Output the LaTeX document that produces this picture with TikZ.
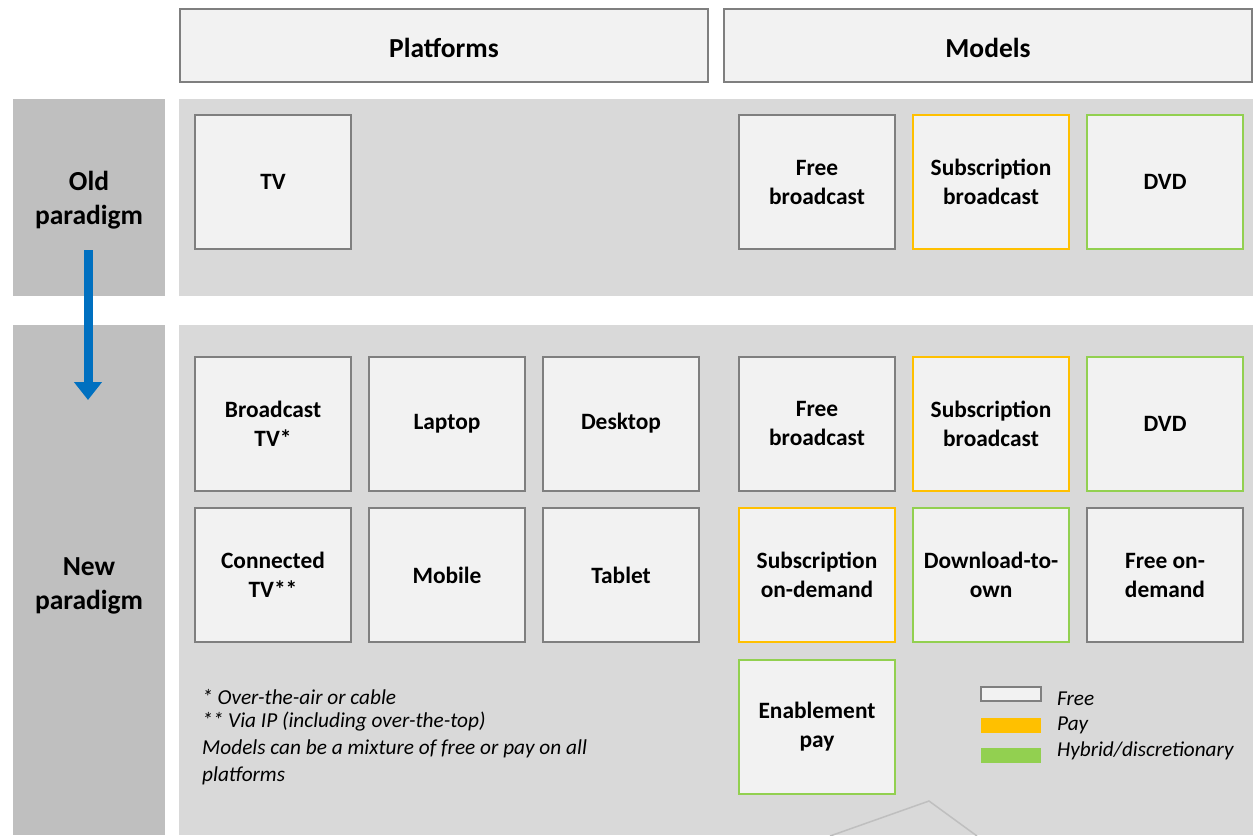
\documentclass[tikz,border=0pt]{standalone}
\usepackage{fontspec}
\setmainfont{Carlito}
\usetikzlibrary{arrows.meta}
\definecolor{boxfill}{HTML}{F2F2F2}
\definecolor{panel}{HTML}{D9D9D9}
\definecolor{rowlab}{HTML}{BFBFBF}
\definecolor{freeC}{HTML}{7F7F7F}
\definecolor{payC}{HTML}{FFC000}
\definecolor{hybC}{HTML}{92D050}
\definecolor{arrowC}{HTML}{0070C0}
\tikzset{
  cell/.style={rectangle, fill=boxfill, line width=2pt, minimum width=156pt, minimum height=134pt,
    align=center, inner sep=2pt, font=\fontsize{23.4}{29}\selectfont\bfseries},
  freebox/.style={cell, draw=freeC},
  paybox/.style={cell, draw=payC},
  hybbox/.style={cell, draw=hybC},
  header/.style={rectangle, fill=boxfill, draw=freeC, line width=1.5pt, minimum width=528pt, minimum height=73pt},
  headtxt/.style={font=\fontsize{27.5}{33}\selectfont\bfseries},
  rowlabel/.style={rectangle, fill=rowlab, minimum width=152pt, inner sep=0pt},
  rowtxt/.style={align=center, font=\fontsize{27.5}{34}\selectfont\bfseries},
  panelbg/.style={rectangle, fill=panel, minimum width=1074pt, inner sep=0pt},
  legsw/.style={rectangle, minimum width=60pt, minimum height=15pt, inner sep=0pt},
  legtxt/.style={anchor=west, inner sep=0pt, font=\fontsize{21.2}{25}\selectfont\itshape}
}
\begin{document}
\begin{tikzpicture}[x=1pt,y=-1pt]
\useasboundingbox (0,0) rectangle (1257,835);
\fill[white] (0,0) rectangle (1257,835);
% headers
\node[header] (hplat) at (444,45.5) {};
\node[headtxt] (tplat) at (444,47.5) {Platforms};
\node[header] (hmod) at (988,45.5) {};
\node[headtxt] (tmod) at (988,47.5) {Models};
% row labels
\node[rowlabel, minimum height=197pt] (lold) at (89,197.5) {};
\node[rowtxt] (told) at (89,200.5) {Old\\paradigm};
\node[rowlabel, minimum height=510pt] (lnewbg) at (89,580) {};
\node[rowtxt] (lnew) at (89,586) {New\\paradigm};
% panels
\node[panelbg, minimum height=197pt] (pold) at (716,197.5) {};
\node[panelbg, minimum height=510pt] (pnew) at (716,580) {};
% old row
\node[freebox] (tv) at (273,182) {TV};
\node[freebox] (ofb) at (817,182) {Free\\broadcast};
\node[paybox] (osb) at (991,182) {Subscription\\broadcast};
\node[hybbox] (odvd) at (1165,182) {DVD};
% new row 1
\node[freebox] (btv) at (273,423.5) {Broadcast\\TV*};
\node[freebox] (lap) at (447,423.5) {Laptop};
\node[freebox] (desk) at (621,423.5) {Desktop};
\node[freebox] (nfb) at (817,423.5) {Free\\broadcast};
\node[paybox] (nsb) at (991,423.5) {Subscription\\broadcast};
\node[hybbox] (ndvd) at (1165,423.5) {DVD};
% new row 2
\node[freebox] (ctv) at (273,575) {Connected\\TV**};
\node[freebox] (mob) at (447,575) {Mobile};
\node[freebox] (tab) at (621,575) {Tablet};
\node[paybox] (sod) at (817,575) {Subscription\\on-demand};
\node[hybbox] (dto) at (991,575) {Download-to-\\own};
\node[freebox] (fod) at (1165,575) {Free on-\\demand};
% new row 3
\node[hybbox] (enp) at (817,726.5) {Enablement\\pay};
% arrow
\coordinate (atop) at (88,250);
\coordinate (abot) at (88,400);
\draw[arrowC, line width=9pt, -{Triangle[width=27pt,length=18pt]}] (atop) -- (abot);
% footnotes
\node[anchor=north west, align=left, inner sep=0pt, font=\fontsize{21.3}{27}\selectfont\itshape] (notes) at (202,689)
  {* Over-the-air or cable\\[-4pt]
   ** Via IP (including over-the-top)\\
   Models can be a mixture of free or pay on all\\
   platforms};
% legend
\node[legsw, fill=boxfill, draw=freeC, line width=2pt, minimum width=60pt, minimum height=14pt] (lfree) at (1011,694) {};
\node[legsw, fill=payC] (lpay) at (1011,725) {};
\node[legsw, fill=hybC] (lhyb) at (1011,755) {};
\node[legtxt] (tfree) at (1057,699) {Free};
\node[legtxt] (tpay) at (1057,725) {Pay};
\node[legtxt] (thyb) at (1057,751) {Hybrid/discretionary};
% stray shape at bottom
\coordinate (s1) at (830,836);
\coordinate (s2) at (929,801);
\coordinate (s3) at (977,836);
\draw[rowlab, line width=1.5pt] (s1) -- (s2) -- (s3);
\end{tikzpicture}
\end{document}
